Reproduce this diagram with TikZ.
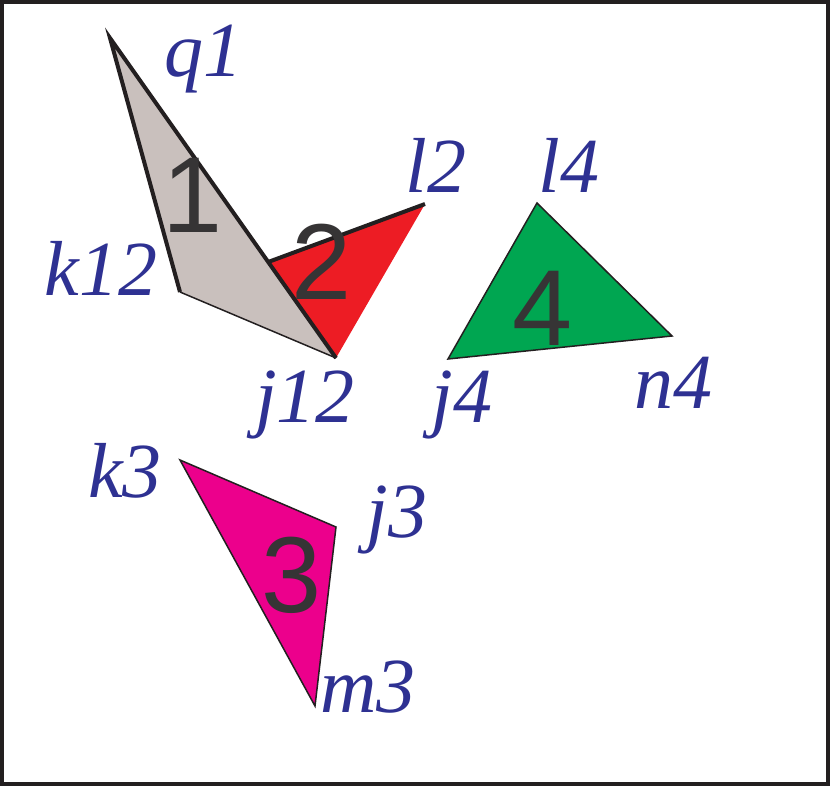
\documentclass[tikz,border=0pt]{standalone}
\usepackage{fontspec}
\setmainfont{Liberation Serif}
\setsansfont{Liberation Sans}
\usetikzlibrary{calc}
\definecolor{lblue}{RGB}{46,49,146}
\definecolor{numgray}{RGB}{54,52,53}
\definecolor{edgeblack}{RGB}{35,31,32}
\definecolor{pgray}{RGB}{201,192,189}
\definecolor{pred}{RGB}{237,28,36}
\definecolor{pgreen}{RGB}{0,166,81}
\definecolor{pmagenta}{RGB}{236,0,140}
\begin{document}
\begin{tikzpicture}[x=1pt,y=-1pt,
	lbl/.style={anchor=base,inner sep=0pt,text=lblue,font=\fontsize{78}{80}\selectfont\itshape},
	num/.style={anchor=base,inner sep=0pt,text=numgray,font=\fontsize{108}{110}\selectfont\sffamily},
	thickedge/.style={line width=4pt,edgeblack},
	thinedge/.style={line width=1.5pt,edgeblack}]
	\useasboundingbox (0,0) rectangle (830,786);
	\draw[line width=4pt,edgeblack] (2,2) rectangle (828,784);
	% vertices
	\coordinate (q1) at (110,38);
	\coordinate (k12) at (180,292);
	\coordinate (j12) at (336,358);
	\coordinate (l2) at (425,204);
	\coordinate (x2) at ($(q1)!0.7!(j12)$);
	\coordinate (k3) at (180,460);
	\coordinate (j3) at (336,527);
	\coordinate (m3) at (315,706);
	\coordinate (l4) at (537,203);
	\coordinate (n4) at (672,336);
	\coordinate (j4) at (448,359);
	% triangles
	\fill[pred] (x2)--(l2)--(j12)--cycle;
	\draw[thickedge] (x2)--(l2);
	\fill[pgray] (q1)--(k12)--(j12)--cycle;
	\draw[thinedge] (k12)--(j12);
	\draw[thickedge] (k12)--(q1)--(j12);
	\draw[thinedge,fill=pmagenta] (k3)--(j3)--(m3)--cycle;
	\draw[thinedge,fill=pgreen] (l4)--(n4)--(j4)--cycle;
	% numbers
	\node[num] (num1) at (193,233) {1};
	\node[num] (num2) at (322,300) {2};
	\node[num] (num3) at (292,612) {3};
	\node[num] (num4) at (543,345) {4};
	% labels
	\node[lbl] (lq1) at (203,77) {q1};
	\node[lbl] (ll2) at (436,193) {l2};
	\node[lbl] (ll4) at (569,193) {l4};
	\node[lbl] (lk12) at (101,296) {k12};
	\node[lbl] (lj12) at (305,422) {j12};
	\node[lbl] (lj4) at (462,422) {j4};
	\node[lbl] (ln4) at (673,408) {n4};
	\node[lbl] (lk3) at (125,497) {k3};
	\node[lbl] (lj3) at (397,537) {j3};
	\node[lbl] (lm3) at (368,712) {m3};
\end{tikzpicture}
\end{document}
